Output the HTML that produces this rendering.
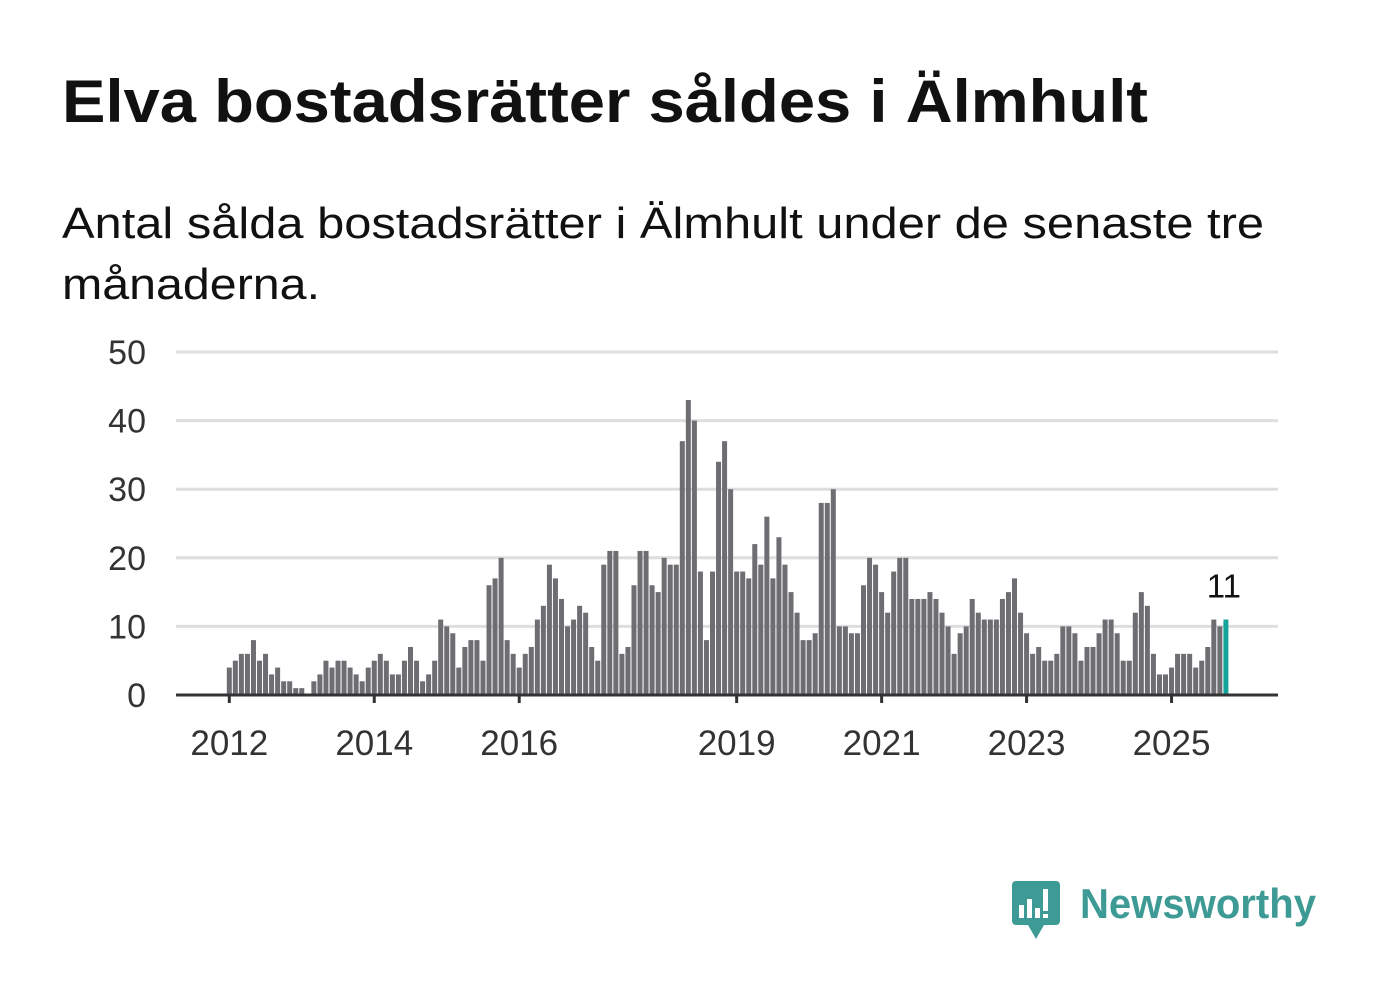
<!DOCTYPE html>
<html><head><meta charset="utf-8"><style>
body{margin:0;background:#fff;width:1382px;height:999px;overflow:hidden;font-family:"Liberation Sans",sans-serif;}
svg{display:block}
</style></head><body>
<svg id="chart" width="1382" height="999">
<text x="62" y="122" font-size="60" font-weight="bold" fill="#111" textLength="1086" lengthAdjust="spacingAndGlyphs">Elva bostadsrätter såldes i Älmhult</text>
<text x="62" y="238" font-size="44" fill="#111" textLength="1202" lengthAdjust="spacingAndGlyphs">Antal sålda bostadsrätter i Älmhult under de senaste tre</text>
<text x="62" y="299" font-size="44" fill="#111" textLength="258" lengthAdjust="spacingAndGlyphs">månaderna.</text>
<g id="grid"></g><g id="bars"></g><g id="axes"></g>
<g>
<rect x="1012" y="881" width="48" height="44" rx="4" fill="#3d9a94"/>
<polygon points="1028,925 1044,925 1036,939" fill="#3d9a94"/>
<rect x="1019" y="905" width="5" height="13" fill="#fff"/><rect x="1027" y="899" width="5" height="19" fill="#fff"/><rect x="1035" y="908" width="5" height="10" fill="#fff"/><rect x="1043" y="889" width="5" height="22" fill="#fff"/><rect x="1043" y="914" width="5" height="4" fill="#fff"/>
<text x="1080" y="918" font-size="42" font-weight="bold" fill="#3d9a94" textLength="236" lengthAdjust="spacingAndGlyphs">Newsworthy</text>
</g>
</svg>
<script>
const values=[4,5,6,6,8,5,6,3,4,2,2,1,1,0,2,3,5,4,5,5,4,3,2,4,5,
6,5,3,3,5,7,5,2,3,5,11,10,9,4,7,8,8,5,16,17,20,8,6,4,6,7,11,13,
19,17,14,10,11,13,12,7,5,19,21,21,6,7,16,21,21,16,15,20,19,19,37,43,40,18,8,18,34,37,30,18,18,17,22,19,26,17,23,19,15,12,
8,8,9,28,28,30,10,10,9,9,16,20,19,15,12,18,20,20,14,14,14,15,14,12,10,6,9,10,14,12,11,11,11,14,15,17,12,9,6,
7,5,5,6,10,10,9,5,7,7,9,11,11,9,5,5,12,15,13,6,3,3,4,6,6,6,4,5,7,11,10,11];
const yTicks=[0,10,20,30,40,50];
const xTickIdx=[0,24,48,84,108,132,156];
const xTickLabels=["2012","2014","2016","2019","2021","2023","2025"];
const NS="http://www.w3.org/2000/svg";
const x=i=>229.3+i*6.04;
const y=v=>695-v*6.86;
function mk(t,a,p){const e=document.createElementNS(NS,t);for(const k in a)e.setAttribute(k,a[k]);p.appendChild(e);return e;}
const grid=document.getElementById('grid'),bars=document.getElementById('bars'),axes=document.getElementById('axes');
yTicks.forEach(v=>{
 if(v>0){const l=mk('line',{x1:176,x2:1278,y1:y(v),y2:y(v),stroke:'#dedede','stroke-width':3},grid);
 
 }
 const t=mk('text',{x:146,y:y(v)+12,'font-size':34,'text-anchor':'end',fill:'#333'},axes);t.textContent=v;
 
 
});
values.forEach((v,i)=>{
 const last=i===values.length-1;
 const r=mk('rect',{x:x(i)-2.5,y:y(v),width:5,height:v*6.86,fill:last?'#16a39a':'#6e6d72'},bars);
 
 
});
const li=values.length-1;
const lab=mk('text',{x:x(li)-2,y:y(values[li])-22,'font-size':33,'text-anchor':'middle',fill:'#111'},axes);
lab.textContent=values[li];


const ax=mk('line',{x1:176,x2:1278,y1:695,y2:695,stroke:'#333','stroke-width':3},axes);


xTickIdx.forEach((ix,k)=>{
 const xx=x(ix);
 const tk=mk('line',{x1:xx,x2:xx,y1:695,y2:703,stroke:'#333','stroke-width':3},axes);
 
 
 const t=mk('text',{x:xx,y:755,'font-size':35,'text-anchor':'middle',fill:'#333'},axes);t.textContent=xTickLabels[k];
 
 
});
</script>
</body></html>
